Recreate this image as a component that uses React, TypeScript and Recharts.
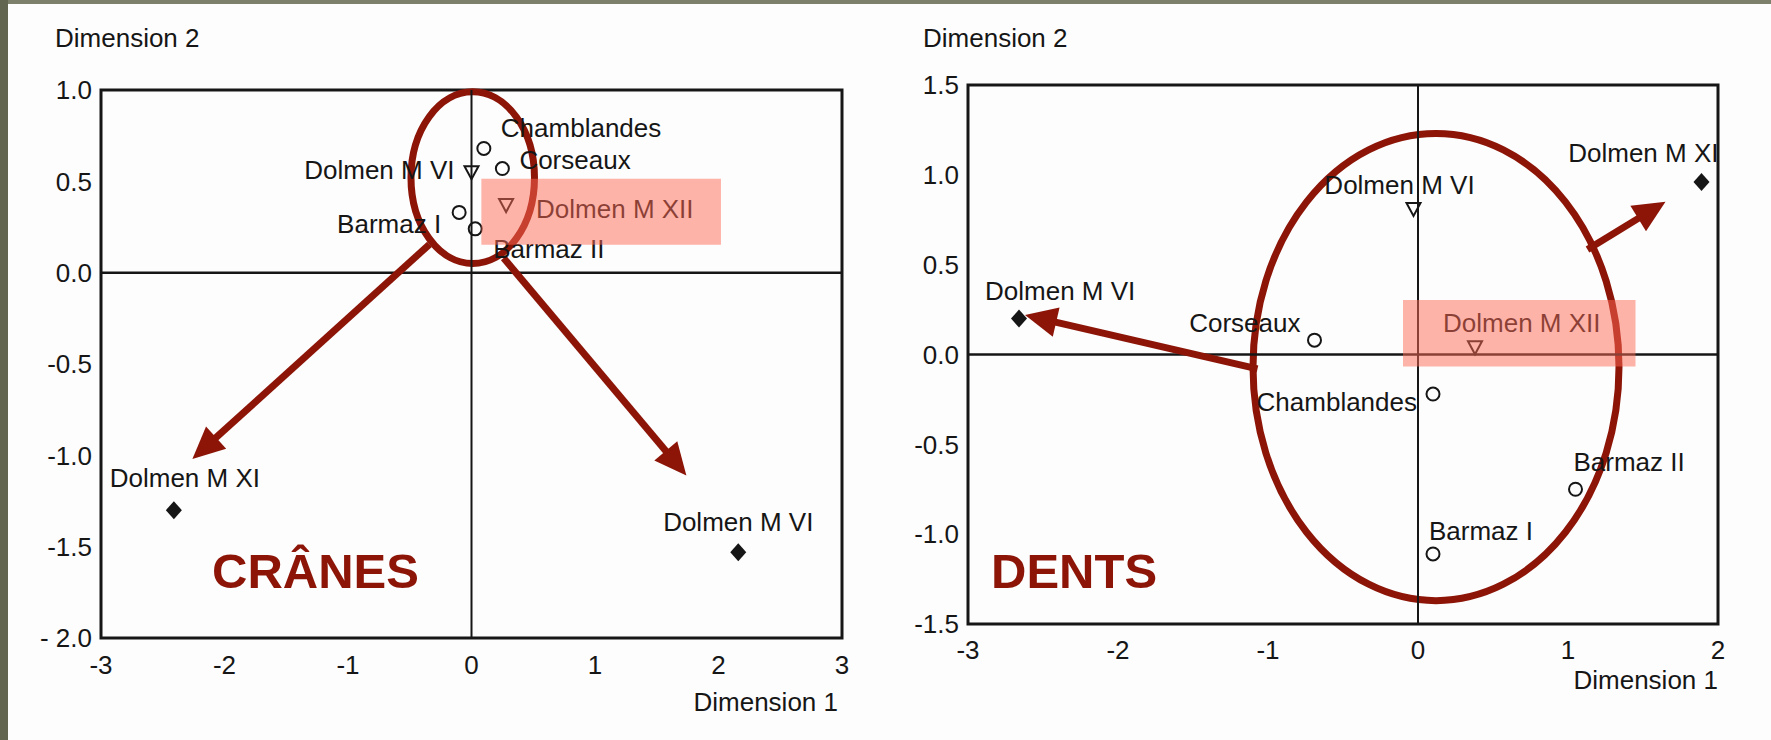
import React from 'react';
import {
  ScatterChart,
  Scatter,
  XAxis,
  YAxis,
  ReferenceArea,
  ReferenceLine,
} from 'recharts';

// ---- CRÂNES (left panel) ----
const craneCircleNames = ['Chamblandes', 'Corseaux', 'Barmaz I', 'Barmaz II'];
const craneCircleDim1 = [0.1, 0.25, -0.1, 0.03];
const craneCircleDim2 = [0.68, 0.57, 0.33, 0.24];
const craneTriangleNames = ['Dolmen M VI', 'Dolmen M XII'];
const craneTriangleDim1 = [0.0, 0.28];
const craneTriangleDim2 = [0.55, 0.37];
const craneDiamondNames = ['Dolmen M XI', 'Dolmen M VI'];
const craneDiamondDim1 = [-2.41, 2.16];
const craneDiamondDim2 = [-1.3, -1.53];
const craneXTicks = [-3, -2, -1, 0, 1, 2, 3];
const craneYTicks = [1, 0.5, 0, -0.5, -1, -1.5, -2];
const craneYTickLabels = ['1.0', '0.5', '0.0', '-0.5', '-1.0', '-1.5', '- 2.0'];

// ---- DENTS (right panel) ----
const dentCircleNames = ['Corseaux', 'Chamblandes', 'Barmaz II', 'Barmaz I'];
const dentCircleDim1 = [-0.69, 0.1, 1.05, 0.1];
const dentCircleDim2 = [0.08, -0.22, -0.75, -1.11];
const dentTriangleNames = ['Dolmen M VI', 'Dolmen M XII'];
const dentTriangleDim1 = [-0.03, 0.38];
const dentTriangleDim2 = [0.81, 0.04];
const dentDiamondNames = ['Dolmen M XI', 'Dolmen M VI'];
const dentDiamondDim1 = [1.89, -2.66];
const dentDiamondDim2 = [0.96, 0.2];
const dentXTicks = [-3, -2, -1, 0, 1, 2];
const dentYTicks = [1.5, 1, 0.5, 0, -0.5, -1, -1.5];
const dentYTickLabels = ['1.5', '1.0', '0.5', '0.0', '-0.5', '-1.0', '-1.5'];

// annotations, in data units
const craneEllipse = { x1: -0.49, x2: 0.51, y1: 0.05, y2: 0.99 };
const craneHighlight = { x1: 0.08, x2: 2.02, y1: 0.153, y2: 0.514 };
const craneArrows = [
  [{ x: -0.34, y: 0.155 }, { x: -2.26, y: -1.02 }],
  [{ x: 0.26, y: 0.08 }, { x: 1.74, y: -1.11 }],
];
const dentEllipse = { x1: -1.1, x2: 1.34, y1: -1.37, y2: 1.23 };
const dentHighlight = { x1: -0.1, x2: 1.45, y1: -0.067, y2: 0.303 };
const dentArrows = [
  [{ x: -1.07, y: -0.08 }, { x: -2.62, y: 0.22 }],
  [{ x: 1.13, y: 0.585 }, { x: 1.65, y: 0.85 }],
];

// label offsets from the marker (px), kept apart from the values
type Place = { dx: number; dy: number; anchor: 'start' | 'middle' | 'end' };
const cranePlaces: Record<string, Place> = {
  'c:Chamblandes': { dx: 17, dy: -20, anchor: 'start' },
  'c:Corseaux': { dx: 17, dy: -9, anchor: 'start' },
  'c:Barmaz I': { dx: -18, dy: 12, anchor: 'end' },
  'c:Barmaz II': { dx: 18, dy: 20, anchor: 'start' },
  't:Dolmen M VI': { dx: -17, dy: -2, anchor: 'end' },
  't:Dolmen M XII': { dx: 30, dy: 4, anchor: 'start' },
  'd:Dolmen M XI': { dx: 11, dy: -32, anchor: 'middle' },
  'd:Dolmen M VI': { dx: 0, dy: -30, anchor: 'middle' },
};
const dentPlaces: Record<string, Place> = {
  'd:Dolmen M XI': { dx: 17, dy: -29, anchor: 'end' },
  't:Dolmen M VI': { dx: -14, dy: -24, anchor: 'middle' },
  'd:Dolmen M VI': { dx: -34, dy: -28, anchor: 'start' },
  'c:Corseaux': { dx: -14, dy: -17, anchor: 'end' },
  't:Dolmen M XII': { dx: -32, dy: -24, anchor: 'start' },
  'c:Chamblandes': { dx: -16, dy: 8, anchor: 'end' },
  'c:Barmaz II': { dx: -2, dy: -27, anchor: 'start' },
  'c:Barmaz I': { dx: -4, dy: -23, anchor: 'start' },
};

const RED = '#8c1508';
const INK = '#161616';
const FONT = '"Liberation Sans", Arial, sans-serif';

const toPoints = (names: string[], xs: number[], ys: number[]) =>
  names.map((name, i) => ({ name, x: xs[i], y: ys[i] }));

const makeShape = (kind: 'c' | 't' | 'd', places: Record<string, Place>) => (props: any) => {
  const { cx, cy, payload } = props;
  const p = places[`${kind}:${payload.name}`] || { dx: 12, dy: -12, anchor: 'start' };
  let mark;
  if (kind === 'c') {
    mark = <circle cx={cx} cy={cy} r={6.5} fill="none" stroke={INK} strokeWidth={2} />;
  } else if (kind === 't') {
    mark = (
      <polygon
        points={`${cx - 7},${cy - 6} ${cx + 7},${cy - 6} ${cx},${cy + 7}`}
        fill="none"
        stroke={INK}
        strokeWidth={2}
      />
    );
  } else {
    mark = <polygon points={`${cx},${cy - 9} ${cx + 8},${cy} ${cx},${cy + 9} ${cx - 8},${cy}`} fill={INK} />;
  }
  return (
    <g>
      {mark}
      <text
        x={cx + p.dx}
        y={cy + p.dy + 9}
        textAnchor={p.anchor}
        fontSize={26}
        fontFamily={FONT}
        fill={INK}
      >
        {payload.name}
      </text>
    </g>
  );
};

const ellipseShape = (p: any) => (
  <ellipse
    cx={p.x + p.width / 2}
    cy={p.y + p.height / 2}
    rx={p.width / 2}
    ry={p.height / 2}
    fill="none"
    stroke={RED}
    strokeWidth={7}
  />
);

const arrowShape = (p: any) => {
  const { x1, y1, x2, y2 } = p;
  const ang = Math.atan2(y2 - y1, x2 - x1);
  const L = 32;
  const W = 15;
  const bx = x2 - L * Math.cos(ang);
  const by = y2 - L * Math.sin(ang);
  const nx = -Math.sin(ang);
  const ny = Math.cos(ang);
  return (
    <g>
      <line x1={x1} y1={y1} x2={bx + 4 * Math.cos(ang)} y2={by + 4 * Math.sin(ang)} stroke={RED} strokeWidth={7} />
      <polygon points={`${x2},${y2} ${bx + nx * W},${by + ny * W} ${bx - nx * W},${by - ny * W}`} fill={RED} />
    </g>
  );
};

const tickStyle = { fontSize: 26, fill: INK, fontFamily: FONT };

interface PanelProps {
  width: number;
  height: number;
  margin: { top: number; right: number; bottom: number; left: number };
  yAxisWidth: number;
  xDomain: [number, number];
  yDomain: [number, number];
  xTicks: number[];
  yTicks: number[];
  yTickLabels: string[];
  xTickMargin: number;
  circles: { name: string; x: number; y: number }[];
  triangles: { name: string; x: number; y: number }[];
  diamonds: { name: string; x: number; y: number }[];
  places: Record<string, Place>;
  ellipse: { x1: number; x2: number; y1: number; y2: number };
  highlight: { x1: number; x2: number; y1: number; y2: number };
  arrows: { x: number; y: number }[][];
}

const Panel: React.FC<PanelProps> = (props) => {
  const { xDomain, yDomain, yTicks, yTickLabels } = props;
  return (
    <ScatterChart width={props.width} height={props.height} margin={props.margin}>
      <XAxis
        type="number"
        dataKey="x"
        domain={xDomain}
        ticks={props.xTicks}
        interval={0}
        axisLine={false}
        tickLine={false}
        tickMargin={props.xTickMargin}
        height={60}
        tick={tickStyle}
        allowDataOverflow
      />
      <YAxis
        type="number"
        dataKey="y"
        domain={yDomain}
        ticks={yTicks}
        interval={0}
        axisLine={false}
        tickLine={false}
        tickMargin={3}
        width={props.yAxisWidth}
        tick={tickStyle}
        tickFormatter={(v: number) => yTickLabels[yTicks.indexOf(v)] ?? String(v)}
        allowDataOverflow
      />
      <ReferenceArea
        x1={xDomain[0]}
        x2={xDomain[1]}
        y1={yDomain[0]}
        y2={yDomain[1]}
        fill="none"
        stroke={INK}
        strokeWidth={3}
        fillOpacity={0}
        ifOverflow="visible"
      />
      <ReferenceLine x={0} stroke={INK} strokeWidth={2} />
      <ReferenceLine y={0} stroke={INK} strokeWidth={2.5} />
      <ReferenceArea {...props.ellipse} shape={ellipseShape} ifOverflow="visible" />
      {props.arrows.map((seg, i) => (
        <ReferenceLine key={i} segment={seg} shape={arrowShape} ifOverflow="visible" />
      ))}
      <Scatter data={props.circles} shape={makeShape('c', props.places)} isAnimationActive={false} />
      <Scatter data={props.triangles} shape={makeShape('t', props.places)} isAnimationActive={false} />
      <Scatter data={props.diamonds} shape={makeShape('d', props.places)} isAnimationActive={false} />
      <ReferenceArea
        {...props.highlight}
        fill="#ff6a55"
        fillOpacity={0.5}
        stroke="none"
        ifOverflow="visible"
        zIndex={700}
      />
    </ScatterChart>
  );
};

const App: React.FC = () => {
  return (
    <div
      style={{
        position: 'absolute',
        left: 0,
        top: 0,
        width: 1771,
        height: 740,
        background: '#fdfdfd',
        overflow: 'hidden',
        fontFamily: FONT,
      }}
    >
      <div style={{ position: 'absolute', left: 0, top: 0 }}>
        <Panel
          width={880}
          height={740}
          margin={{ top: 90, right: 38, bottom: 42, left: 0 }}
          yAxisWidth={101}
          xDomain={[-3, 3]}
          yDomain={[-2, 1]}
          xTicks={craneXTicks}
          yTicks={craneYTicks}
          yTickLabels={craneYTickLabels}
          xTickMargin={12}
          circles={toPoints(craneCircleNames, craneCircleDim1, craneCircleDim2)}
          triangles={toPoints(craneTriangleNames, craneTriangleDim1, craneTriangleDim2)}
          diamonds={toPoints(craneDiamondNames, craneDiamondDim1, craneDiamondDim2)}
          places={cranePlaces}
          ellipse={craneEllipse}
          highlight={craneHighlight}
          arrows={craneArrows}
        />
      </div>
      <div style={{ position: 'absolute', left: 880, top: 0 }}>
        <Panel
          width={891}
          height={740}
          margin={{ top: 85, right: 53, bottom: 56, left: 0 }}
          yAxisWidth={88}
          xDomain={[-3, 2]}
          yDomain={[-1.5, 1.5]}
          xTicks={dentXTicks}
          yTicks={dentYTicks}
          yTickLabels={dentYTickLabels}
          xTickMargin={11}
          circles={toPoints(dentCircleNames, dentCircleDim1, dentCircleDim2)}
          triangles={toPoints(dentTriangleNames, dentTriangleDim1, dentTriangleDim2)}
          diamonds={toPoints(dentDiamondNames, dentDiamondDim1, dentDiamondDim2)}
          places={dentPlaces}
          ellipse={dentEllipse}
          highlight={dentHighlight}
          arrows={dentArrows}
        />
      </div>
      <svg
        width={1771}
        height={740}
        style={{ position: 'absolute', left: 0, top: 0, pointerEvents: 'none' }}
      >
        <rect x={0} y={0} width={1771} height={4} fill="#7d806b" />
        <rect x={0} y={0} width={8} height={740} fill="#62654f" />
        <g fontFamily={FONT} fontSize={26} fill={INK}>
          <text x={55} y={47}>Dimension 2</text>
          <text x={838} y={711} textAnchor="end">Dimension 1</text>
          <text x={923} y={47}>Dimension 2</text>
          <text x={1718} y={689} textAnchor="end">Dimension 1</text>
        </g>
        <g fontFamily={FONT} fontSize={49} fontWeight="bold" fill={RED}>
          <text x={212} y={588}>CRÂNES</text>
          <text x={991} y={588}>DENTS</text>
        </g>
      </svg>
    </div>
  );
};

export default App;
